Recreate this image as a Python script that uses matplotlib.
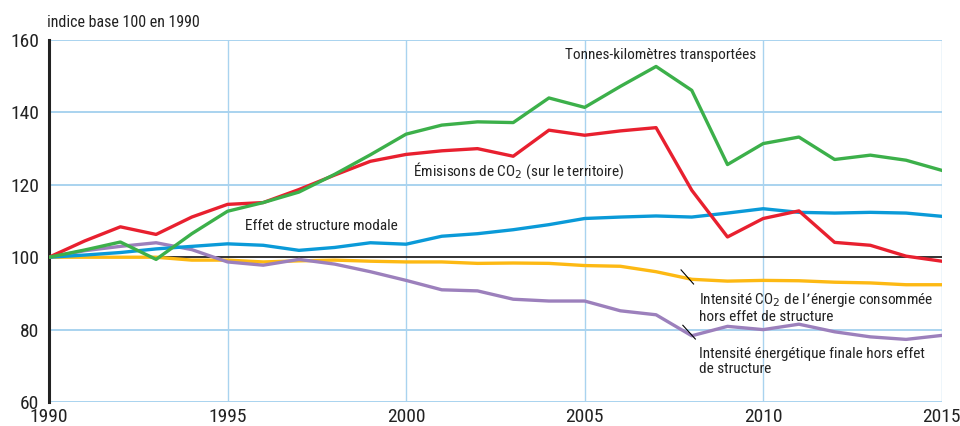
import matplotlib
matplotlib.use("Agg")
import matplotlib.pyplot as plt

plt.rcParams["font.family"] = ["Roboto Condensed", "Liberation Sans Narrow", "Roboto", "DejaVu Sans"]

years = list(range(1990, 2016))

tonnes_km = [100, 102.0, 104.2, 99.4, 106.5, 112.7, 115.1, 118.0, 122.9, 128.3, 134.0, 136.5, 137.4,
             137.2, 144.0, 141.4, 147.2, 152.7, 146.1, 125.6, 131.4, 133.2, 127.0, 128.2, 126.8, 124.0]
emissions = [100, 104.5, 108.4, 106.3, 111.1, 114.6, 115.1, 118.7, 122.7, 126.5, 128.4, 129.4, 130.0,
             127.9, 135.1, 133.7, 134.9, 135.8, 118.5, 105.6, 110.7, 112.8, 104.1, 103.3, 100.3, 98.9]
structure_modale = [100, 100.6, 101.3, 102.3, 103.0, 103.7, 103.3, 101.9, 102.7, 104.0, 103.6, 105.8, 106.5,
                    107.6, 109.0, 110.7, 111.1, 111.4, 111.1, 112.2, 113.4, 112.4, 112.2, 112.4, 112.2, 111.3]
intensite_co2 = [100, 100, 100, 100, 99.2, 99.2, 98.7, 99.0, 99.2, 98.9, 98.7, 98.7, 98.3,
                 98.4, 98.3, 97.7, 97.5, 96.0, 93.9, 93.4, 93.6, 93.5, 93.1, 92.9, 92.4, 92.4]
intensite_energie = [100, 101.8, 103.0, 104.0, 102.1, 98.7, 97.8, 99.4, 98.1, 96.0, 93.6, 91.0, 90.7,
                     88.4, 87.9, 87.9, 85.2, 84.1, 78.3, 80.9, 80.0, 81.5, 79.4, 78.0, 77.3, 78.4]

fig = plt.figure(figsize=(9.6, 4.26), dpi=100)
ax = fig.add_axes([0.051, 0.0563, 0.930, 0.8497])

grid_col = "#a9d3ef"
for x in [1995, 2000, 2005, 2010, 2015]:
    ax.axvline(x, color=grid_col, lw=1.0, zorder=0)
for y in [60, 80, 120, 140, 160]:
    ax.axhline(y, color=grid_col, lw=1.4, zorder=0)
ax.axhline(100, color="#222222", lw=1.3, zorder=1)

lw = 2.4
ax.plot(years, intensite_co2, color="#fdb913", lw=lw, zorder=3)
ax.plot(years, intensite_energie, color="#9c80bc", lw=lw, zorder=3)
ax.plot(years, structure_modale, color="#0a9ad8", lw=lw, zorder=3)
ax.plot(years, emissions, color="#e8202f", lw=lw, zorder=4)
ax.plot(years, tonnes_km, color="#3cb04a", lw=lw, zorder=4)

ax.set_xlim(1990, 2015)
ax.set_ylim(60, 160)
ax.set_xticks([1990, 1995, 2000, 2005, 2010, 2015])
ax.set_yticks([60, 80, 100, 120, 140, 160])
ax.tick_params(length=0, labelsize=14, colors="#222222")
ax.tick_params(axis="x", pad=4)
ax.tick_params(axis="y", pad=7)
for s in ["top", "right", "bottom"]:
    ax.spines[s].set_visible(False)
ax.spines["left"].set_linewidth(2.2)
ax.spines["left"].set_color("#222222")

tc = "#222222"
fs = 11
ax.text(2004.45, 155.9, "Tonnes-kilomètres transportées", fontsize=fs, color=tc, va="center")
ax.text(2000.2, 123.8, "Émisisons de CO$_2$ (sur le territoire)", fontsize=fs, color=tc, va="center")
ax.text(1995.5, 108.6, "Effet de structure modale", fontsize=fs, color=tc, va="center")
ax.text(2008.2, 90.8, "Intensité CO$_2$ de l’énergie consommée\nhors effet de structure",
        fontsize=fs, color=tc, va="top", linespacing=1.1)
ax.text(2008.2, 75.3, "Intensité énergétique finale hors effet\nde structure",
        fontsize=fs, color=tc, va="top", linespacing=1.1)
ax.plot([2007.7, 2008.05], [96.5, 92.6], color="black", lw=0.8, zorder=5)
ax.plot([2007.75, 2008.1], [81.2, 77.4], color="black", lw=0.8, zorder=5)

fig.text(0.049, 0.948, "indice base 100 en 1990", fontsize=11.5, color=tc, va="center")

fig.savefig("out.png", dpi=100)
plt.close(fig)
